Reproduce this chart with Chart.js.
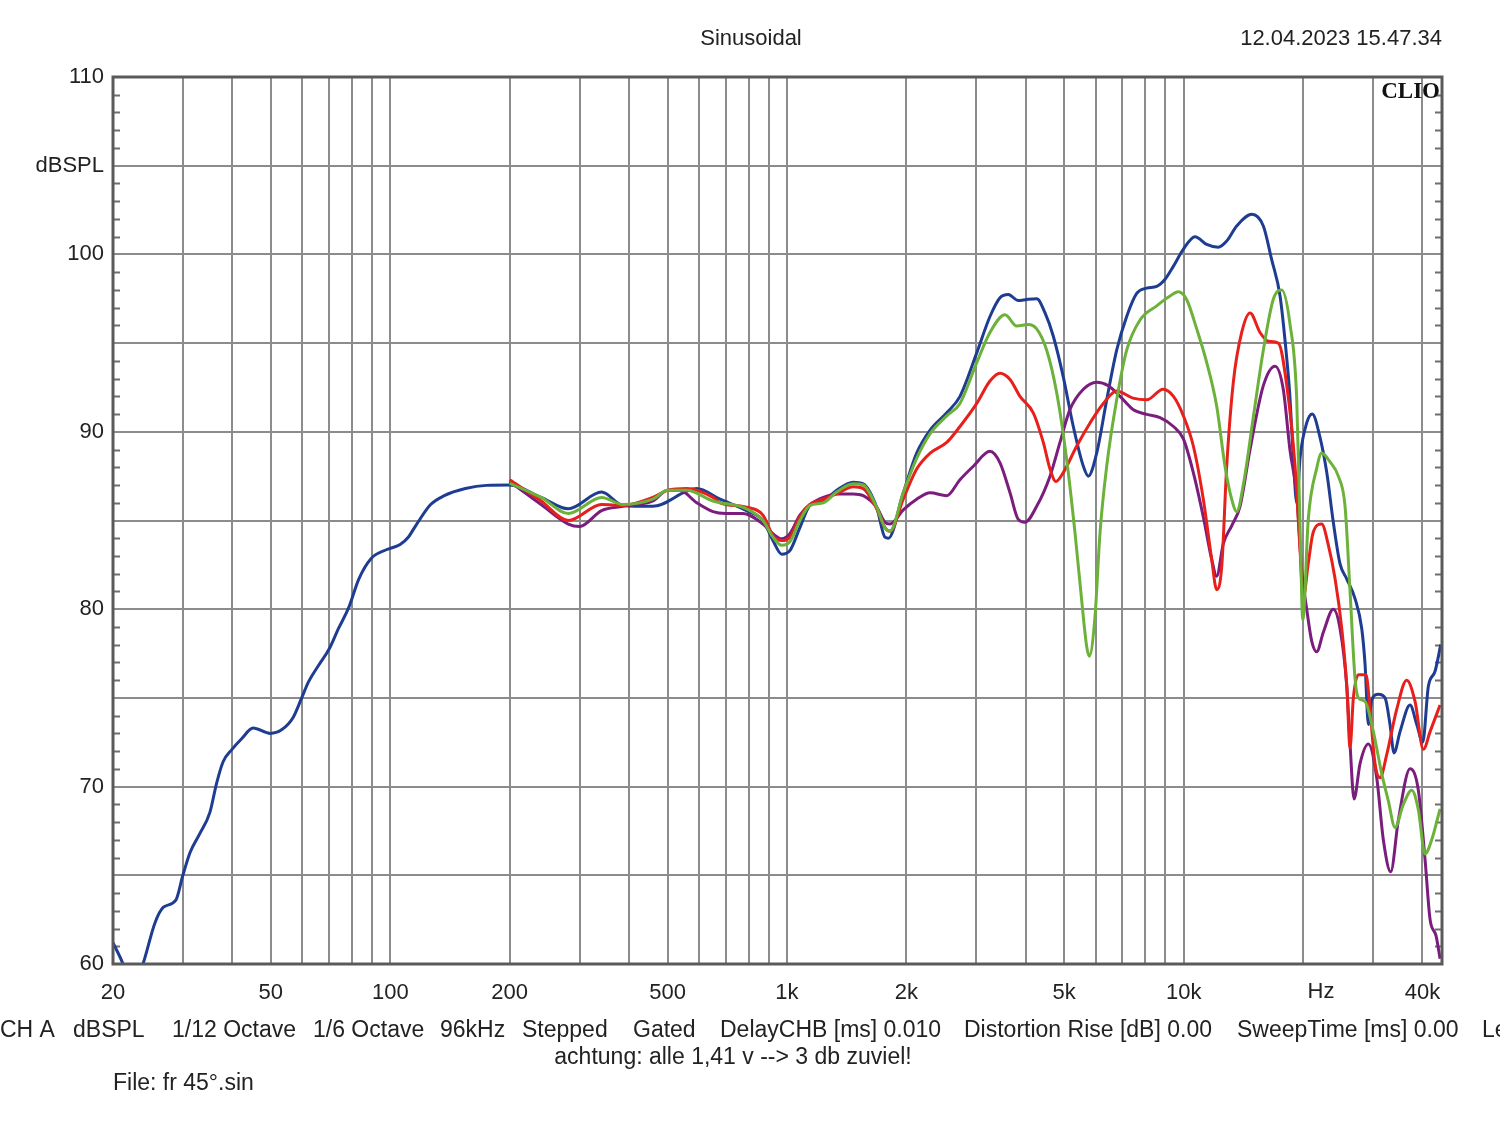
<!DOCTYPE html>
<html>
<head>
<meta charset="utf-8">
<script src="https://cdn.jsdelivr.net/npm/chart.js@4.4.0/dist/chart.umd.min.js"></script>
<style>
  body { margin: 0; background: #fff; }
  canvas { display: block; }
</style>
</head>
<body>
<canvas id="grafico" width="1500" height="1121"></canvas>
<script>
// grid / tick values
const gridHz = [20, 30, 40, 50, 60, 70, 80, 90, 100, 200, 300, 400, 500, 600, 700, 800, 900,
  1000, 2000, 3000, 4000, 5000, 6000, 7000, 8000, 9000, 10000, 20000, 30000, 40000];
const xLabels = { 20: '20', 50: '50', 100: '100', 200: '200', 500: '500', 1000: '1k', 2000: '2k',
  5000: '5k', 10000: '10k', 40000: '40k' };
const yGrid = [60, 65, 70, 75, 80, 85, 90, 95, 100, 105, 110];

// blue curve (0°?) - full range
const blueHz = [20, 21.2, 22.3, 23.8, 25.5, 26.8, 28.8, 30, 31.3, 33.1, 35.1, 36.5, 37.9, 39.9, 42.2, 45.1,
  49.8, 53.2, 56.9, 59.8, 62.2, 65.8, 70.3, 74, 78.6, 83.3, 89.4, 97.7, 105.9, 111, 116.6, 126.4, 136.8,
  154.6, 174.7, 200, 240, 281, 341, 386, 459, 592, 678, 791, 870, 922, 970, 1017, 1078, 1143, 1235, 1334,
  1469, 1557, 1683, 1766, 1802, 1964, 2123, 2296, 2528, 2730, 3009, 3249, 3444, 3613, 3829, 4022, 4261,
  4473, 4691, 4972, 5270, 5586, 5750, 6037, 6398, 6779, 7185, 7615, 8072, 8554, 8977, 9426, 9986, 10685,
  11433, 12224, 12840, 13605, 14850, 15880, 16670, 17500, 18200, 18530, 18900, 19280, 19670, 20430, 21100,
  22060, 22950, 23840, 24790, 25780, 27040, 28120, 28660, 29220, 29800, 30960, 32190, 33130, 33910, 35120,
  37220, 38700, 40060, 41390, 43030, 44480];
const blueDb = [61.2, 60.0, 58.5, 60.0, 62.3, 63.2, 63.6, 65.0, 66.3, 67.35, 68.55, 70.2, 71.4, 72.1, 72.7, 73.3,
  73.0, 73.2, 73.9, 75.0, 75.9, 76.8, 77.8, 78.9, 80.1, 81.7, 82.85, 83.35, 83.65, 84.06, 84.8, 85.9, 86.4,
  86.8, 86.98, 87.0, 86.3, 85.66, 86.6, 85.85, 85.8, 86.8, 86.2, 85.56, 85.0, 83.87, 83.1, 83.3, 84.6, 85.85, 86.1, 86.7,
  87.16, 87.07, 85.75, 84.06, 84.0, 86.56, 88.8, 90.1, 91.07, 92.0, 94.45, 96.5, 97.56, 97.74, 97.4, 97.46, 97.5,
  96.7, 95.4, 93.1, 90.3, 88.06, 87.5, 88.8, 91.8, 94.6, 96.5, 97.8, 98.1, 98.2, 98.6, 99.34, 100.3, 101.0,
  100.56, 100.4, 100.75, 101.6, 102.26, 101.6, 99.7, 97.65, 94.1, 92.0, 88.5, 86.0, 88.6, 90.5, 91.0,
  89.7, 87.7, 84.9, 82.55, 81.7, 80.6, 78.9, 76.9, 73.5, 74.9, 75.2, 75.0, 73.5, 71.9, 73.1,
  74.6, 73.5, 72.5, 75.65, 76.5, 78.0];

const greenHz = [200, 240, 281, 341, 386, 459, 500, 559, 651, 791, 870, 922, 970, 1017, 1078, 1143, 1235, 1334,
  1469, 1557, 1683, 1766, 1819, 1964, 2123, 2296, 2528, 2730, 3009, 3249, 3546, 3794, 4058, 4261, 4516, 4786,
  5074, 5323, 5533, 5696, 5784, 5978, 6154, 6398, 6779, 7185, 7763, 8554, 9237, 9693, 10175, 10787, 11433,
  12113, 12713, 13216, 13605, 14160, 15000, 15880, 16820, 17670, 18530, 19280, 19670, 19970, 20620, 21650,
  22280, 23390, 24540, 25520, 26270, 27040, 27570, 28660, 30070, 31590, 32810, 34100, 35800, 37580, 39050,
  40600, 42200, 44300];
const greenDb = [87.1, 86.3, 85.4, 86.3, 85.9, 86.2, 86.7, 86.7, 86.1, 85.66, 85.0, 84.06, 83.6, 83.8, 85.0, 85.85, 86.0, 86.6,
  87.07, 87.0, 85.75, 84.6, 84.4, 86.56, 88.5, 89.9, 90.9, 91.6, 93.9, 95.6, 96.6, 95.96, 96.05, 95.8, 94.6, 92.2,
  88.4, 84.3, 80.5, 77.9, 77.35, 79.6, 84.3, 88.06, 91.8, 94.6, 96.3, 97.1, 97.65, 97.9, 97.46, 95.8, 93.9,
  91.45, 88.06, 86.2, 85.5, 87.1, 90.9, 94.6, 97.46, 98.0, 96.1, 91.8, 84.3, 79.4, 85.1, 87.95,
  88.8, 88.3, 87.5, 85.8, 81.0, 76.1, 75.0, 74.8, 73.1, 70.7, 69.2, 67.7, 69.0, 69.8, 68.7,
  66.2, 67.0, 68.75];

const redHz = [200, 240, 281, 341, 386, 459, 500, 559, 651, 678, 791, 870, 922, 970, 1017, 1078, 1143, 1235, 1334,
  1469, 1557, 1683, 1766, 1819, 1964, 2123, 2296, 2528, 2730, 3009, 3249, 3444, 3650, 3867, 4178, 4428, 4604,
  4766, 4972, 5377, 5808, 6273, 6779, 7454, 8072, 8877, 9426, 9986, 10578, 11210, 11770, 12113, 12474, 12840,
  13343, 14007, 14704, 15576, 16350, 17330, 18200, 19090, 19670, 20000, 20620, 21190, 22280, 23170, 24090,
  25040, 25780, 26270, 26780, 27570, 28820, 29500, 30370, 31270, 32500, 34440, 36490, 38310, 40210, 41810, 44300];
const redDb = [87.3, 86.1, 85.0, 85.9, 85.85, 86.3, 86.7, 86.8, 86.3, 86.0, 85.75, 85.3, 84.15, 83.87, 84.06, 85.2, 85.9, 86.2, 86.5,
  86.9, 86.8, 85.66, 84.6, 84.4, 86.2, 87.9, 88.8, 89.4, 90.3, 91.6, 92.86, 93.3, 92.95, 92.0, 91.07, 89.4, 87.9,
  87.2, 87.7, 89.2, 90.5, 91.6, 92.3, 91.9, 91.8, 92.4, 92.0, 90.9, 89.2, 86.2, 82.8, 81.1, 82.4, 88.06,
  92.8, 95.6, 96.7, 95.6, 95.1, 95.0, 92.6, 88.06, 83.2, 80.6, 82.6, 84.3, 84.8, 83.6, 81.7,
  78.9, 75.65, 72.2, 75.0, 76.3, 76.3, 74.35, 71.3, 70.5, 71.8, 74.35, 76.0, 74.8, 72.1, 73.1, 74.6];

const purpleHz = [200, 240, 281, 300, 341, 386, 459, 500, 537, 592, 651, 700, 775, 870, 922, 970, 1017, 1078, 1143,
  1235, 1334, 1469, 1557, 1683, 1766, 1819, 1964, 2123, 2296, 2528, 2730, 2950, 3249, 3444, 3650, 3829, 3981,
  4261, 4604, 4878, 5170, 5586, 6037, 6459, 6913, 7454, 8072, 8719, 9426, 9986, 10578, 11210, 11770, 12113,
  12590, 13216, 13873, 14704, 15880, 17000, 17830, 18530, 19280, 19860, 20430, 21030, 21650, 22500, 23840,
  24790, 25780, 26270, 26890, 27840, 29220, 30670, 31870, 33270, 34770, 37220, 39050, 40600, 41810, 43270, 44300];
const purpleDb = [87.2, 85.9, 84.8, 84.66, 85.56, 85.8, 86.1, 86.7, 86.7, 86.0, 85.5, 85.4, 85.4, 84.8, 84.25, 83.97, 84.25, 85.3, 85.9,
  86.3, 86.5, 86.5, 86.4, 85.75, 84.9, 84.8, 85.6, 86.2, 86.56, 86.4, 87.3, 88.06, 88.9, 88.25, 86.56, 85.06, 84.9,
  85.8, 87.5, 89.4, 91.26, 92.4, 92.8, 92.6, 92.0, 91.26, 90.98, 90.8, 90.3, 89.6, 87.7, 85.2, 82.8, 81.86,
  83.7, 84.7, 85.8, 89.0, 92.6, 93.7, 92.4, 89.0, 86.4, 82.1, 80.0, 78.2, 77.6, 78.7, 80.0,
  78.9, 75.65, 72.4, 69.3, 71.3, 72.4, 70.5, 67.0, 65.2, 68.1, 71.0, 69.8, 65.9, 62.5, 61.6, 60.3];

const fonte = '"Liberation Sans", Arial, sans-serif';

function pares(hz, db) {
  return hz.map((f, i) => ({ x: f, y: db[i] }));
}

function curva(nome, hz, db, cor) {
  return {
    label: nome,
    data: pares(hz, db),
    borderColor: cor,
    borderWidth: 3,
    pointRadius: 0,
    fill: false,
    cubicInterpolationMode: 'monotone'
  };
}

// frame, small ticks and all the loose texts
const moldura = {
  id: 'moldura',
  beforeDatasetsDraw(chart) {
    const { ctx, chartArea: a, scales } = chart;
    ctx.save();
    ctx.strokeStyle = '#6e6e6e';
    ctx.lineWidth = 2;
    ctx.beginPath();
    for (let v = 61; v < 110; v++) {
      if (v % 5 === 0) continue;
      const y = Math.round(scales.y.getPixelForValue(v)) + 0.5;
      ctx.moveTo(a.left, y); ctx.lineTo(a.left + 7, y);
      ctx.moveTo(a.right - 7, y); ctx.lineTo(a.right, y);
    }
    ctx.stroke();
    ctx.restore();
  },
  afterDraw(chart) {
    const { ctx, chartArea: a, scales } = chart;
    ctx.save();
    ctx.strokeStyle = '#5a5a5a';
    ctx.lineWidth = 3;
    ctx.strokeRect(a.left, a.top, a.right - a.left, a.bottom - a.top);

    ctx.fillStyle = '#222';
    ctx.textBaseline = 'middle';
    ctx.font = '22px ' + fonte;
    ctx.textAlign = 'center';
    ctx.fillText('Sinusoidal', 751, 39);
    ctx.fillText('Hz', scales.x.getPixelForValue(20000) + 18, 992);
    ctx.textAlign = 'right';
    ctx.fillText('12.04.2023 15.47.34', 1442, 39);

    ctx.font = 'bold 23px "Liberation Serif", "Times New Roman", serif';
    ctx.textBaseline = 'alphabetic';
    ctx.fillStyle = '#111';
    ctx.fillText('CLIO', 1440, 98);

    ctx.fillStyle = '#222';
    ctx.textBaseline = 'middle';
    ctx.textAlign = 'left';
    ctx.font = '23px ' + fonte;
    const rodape = [
      ['CH A', 0], ['dBSPL', 73], ['1/12 Octave', 172], ['1/6 Octave', 313], ['96kHz', 440],
      ['Stepped', 522], ['Gated', 633], ['DelayCHB [ms] 0.010', 720],
      ['Distortion Rise [dB] 0.00', 964], ['SweepTime [ms] 0.00', 1237], ['Le', 1482]
    ];
    rodape.forEach(([t, x]) => ctx.fillText(t, x, 1031));
    ctx.textAlign = 'center';
    ctx.fillText('achtung: alle 1,41 v --> 3 db zuviel!', 733, 1058);
    ctx.textAlign = 'left';
    ctx.fillText('File: fr 45°.sin', 113, 1084);
    ctx.restore();
  }
};

const grafico = new Chart(document.getElementById('grafico'), {
  type: 'line',
  data: {
    datasets: [
      curva('green', greenHz, greenDb, '#6cb23a'),
      curva('red', redHz, redDb, '#e8201c'),
      curva('purple', purpleHz, purpleDb, '#7a1d7c'),
      curva('blue', blueHz, blueDb, '#1e3c92')
    ]
  },
  options: {
    responsive: false,
    animation: false,
    devicePixelRatio: 1,
    layout: { padding: { top: 77, right: 58, left: 0, bottom: 0 } },
    plugins: { legend: { display: false }, tooltip: { enabled: false } },
    scales: {
      x: {
        type: 'logarithmic',
        min: 20,
        max: 44800,
        afterBuildTicks: s => { s.ticks = gridHz.map(v => ({ value: v })); },
        afterFit: s => { s.height = 157; },
        grid: { color: '#8c8c8c', lineWidth: 2, drawTicks: false },
        border: { display: false },
        ticks: {
          autoSkip: false,
          maxRotation: 0,
          padding: 16,
          color: '#222',
          font: { family: fonte, size: 22 },
          callback: v => xLabels[v] || ''
        }
      },
      y: {
        min: 60,
        max: 110,
        afterBuildTicks: s => { s.ticks = yGrid.map(v => ({ value: v })); },
        afterFit: s => { s.width = 113; },
        grid: { color: '#8c8c8c', lineWidth: 2, drawTicks: false },
        border: { display: false },
        ticks: {
          padding: 9,
          color: '#222',
          font: { family: fonte, size: 22 },
          callback: v => (v === 105 ? 'dBSPL' : (v % 10 === 0 ? v : ''))
        }
      }
    }
  },
  plugins: [moldura]
});
</script>
</body>
</html>
